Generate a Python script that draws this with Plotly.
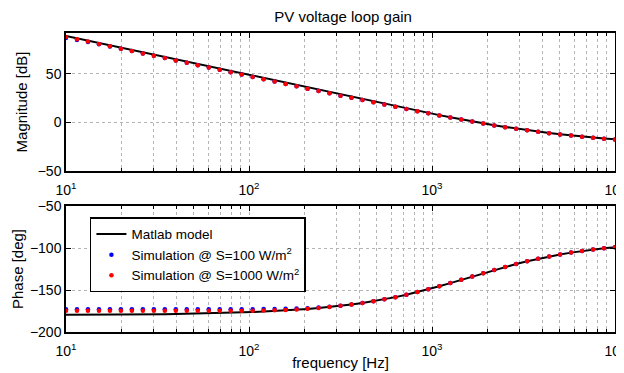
import plotly.graph_objects as go
from plotly.subplots import make_subplots

# Frequencies [Hz] (51 log-spaced points, 10 Hz .. 10 kHz)
freq = [10.0, 11.48, 13.18, 15.14, 17.38, 19.95, 22.91, 26.30, 30.20, 34.67,
        39.81, 45.71, 52.48, 60.26, 69.18, 79.43, 91.20, 104.7, 120.2, 138.0,
        158.5, 182.0, 208.9, 239.9, 275.4, 316.2, 363.1, 416.9, 478.6, 549.5,
        631.0, 724.4, 831.8, 955.0, 1096.0, 1259.0, 1445.0, 1660.0, 1905.0, 2188.0,
        2512.0, 2884.0, 3311.0, 3802.0, 4365.0, 5012.0, 5754.0, 6607.0, 7586.0, 8710.0,
        10000.0]

# Magnitude [dB]
mag_model = [89.0, 86.6, 84.2, 81.7, 79.3, 76.9, 74.5, 72.0, 69.6, 67.2,
             64.8, 62.4, 59.9, 57.5, 55.1, 52.7, 50.2, 47.8, 45.4, 43.0,
             40.5, 38.1, 35.7, 33.3, 30.9, 28.5, 26.1, 23.7, 21.3, 19.0,
             16.6, 14.3, 12.0, 9.7, 7.5, 5.3, 3.1, 1.0, -1.0, -2.9,
             -4.7, -6.4, -8.0, -9.5, -10.9, -12.2, -13.4, -14.5, -15.5, -16.5,
             -17.4]
mag_s100 = [86.8, 84.8, 82.7, 80.3, 78.1, 75.8, 73.5, 71.0, 68.6, 66.2,
            63.8, 61.4, 58.9, 56.5, 54.1, 51.7, 49.2, 46.8, 44.4, 42.0,
            39.5, 37.1, 34.7, 32.3, 29.9, 27.5, 25.3, 23.0, 20.7, 18.5,
            16.2, 13.9, 11.6, 9.4, 7.2, 5.0, 2.9, 0.8, -1.2, -3.1,
            -4.9, -6.6, -8.2, -9.7, -11.1, -12.4, -13.6, -14.7, -15.7, -16.7,
            -17.6]
mag_s1000 = [87.9, 85.5, 83.2, 80.7, 78.3, 75.9, 73.5, 71.0, 68.6, 66.2,
             63.8, 61.4, 58.9, 56.5, 54.1, 51.7, 49.2, 46.8, 44.4, 42.0,
             39.5, 37.1, 34.7, 32.3, 29.9, 27.5, 25.3, 23.0, 20.7, 18.5,
             16.2, 13.9, 11.6, 9.4, 7.2, 5.0, 2.9, 0.8, -1.2, -3.1,
             -4.9, -6.6, -8.2, -9.7, -11.1, -12.4, -13.6, -14.7, -15.7, -16.7,
             -17.6]

# Phase [deg]
ph_model = [-179.6, -179.6, -179.5, -179.5, -179.4, -179.3, -179.2, -179.1, -178.9, -178.8,
            -178.6, -178.4, -178.1, -177.8, -177.5, -177.2, -176.7, -176.3, -175.7, -175.1,
            -174.3, -173.5, -172.6, -171.5, -170.2, -168.8, -167.2, -165.4, -163.3, -161.0,
            -158.5, -155.6, -152.5, -149.2, -145.6, -141.8, -137.9, -134.0, -130.0, -126.2,
            -122.5, -119.0, -115.8, -112.8, -110.1, -107.7, -105.5, -103.6, -101.9, -100.4,
            -99.1]
ph_s100 = [-172.8, -172.8, -172.8, -172.8, -172.8, -172.8, -172.8, -172.8, -172.8, -172.8,
           -172.8, -172.8, -172.8, -172.8, -172.8, -172.8, -172.8, -172.8, -172.7, -172.6,
           -172.4, -172.1, -171.6, -170.9, -169.9, -168.7, -167.2, -165.4, -163.3, -161.0,
           -158.5, -155.6, -152.5, -149.2, -145.6, -141.8, -137.9, -134.0, -130.0, -126.2,
           -122.5, -119.0, -115.8, -112.8, -110.1, -107.7, -105.5, -103.6, -101.9, -100.4,
           -99.1]
ph_s1000 = [-174.8, -174.8, -174.8, -174.8, -174.8, -174.8, -174.8, -174.8, -174.8, -174.8,
            -174.8, -174.8, -174.8, -174.8, -174.8, -174.7, -174.7, -174.6, -174.4, -174.1,
            -173.7, -173.1, -172.3, -171.3, -170.1, -168.8, -167.2, -165.4, -163.3, -161.0,
            -158.5, -155.6, -152.5, -149.2, -145.6, -141.8, -137.9, -134.0, -130.0, -126.2,
            -122.5, -119.0, -115.8, -112.8, -110.1, -107.7, -105.5, -103.6, -101.9, -100.4,
            -99.1]

xtick_vals = [10, 100, 1000, 10000]
xtick_text = ["10<sup>1</sup>", "10<sup>2</sup>", "10<sup>3</sup>", "10<sup>4</sup>"]
xminor_vals = [20, 30, 40, 50, 60, 70, 80, 90,
               200, 300, 400, 500, 600, 700, 800, 900,
               2000, 3000, 4000, 5000, 6000, 7000, 8000, 9000]

FONT = "Liberation Sans, Arial, Helvetica, sans-serif"
TICK_FS = 14
LAB_FS = 15

fig = make_subplots(rows=2, cols=1, shared_xaxes=False, vertical_spacing=0.1)

mk = 4.5
fig.add_trace(go.Scatter(x=freq, y=mag_model, mode="lines", line=dict(color="black", width=2),
                         name="Matlab model", showlegend=True), row=1, col=1)
fig.add_trace(go.Scatter(x=freq, y=mag_s100, mode="markers", marker=dict(color="#0000ff", size=mk),
                         name="Simulation @ S=100 W/m<sup>2</sup>", showlegend=True), row=1, col=1)
fig.add_trace(go.Scatter(x=freq, y=mag_s1000, mode="markers", marker=dict(color="#ff0000", size=mk),
                         name="Simulation @ S=1000 W/m<sup>2</sup>", showlegend=True), row=1, col=1)
fig.add_trace(go.Scatter(x=freq, y=ph_model, mode="lines", line=dict(color="black", width=2),
                         showlegend=False), row=2, col=1)
fig.add_trace(go.Scatter(x=freq, y=ph_s100, mode="markers", marker=dict(color="#0000ff", size=mk),
                         showlegend=False), row=2, col=1)
fig.add_trace(go.Scatter(x=freq, y=ph_s1000, mode="markers", marker=dict(color="#ff0000", size=mk),
                         showlegend=False), row=2, col=1)

gridc = "#b4b4b4"
xcommon = dict(type="log", range=[1, 4], tickvals=xtick_vals, ticktext=xtick_text,
               showline=True, linecolor="black", linewidth=1.5, mirror="ticks",
               ticks="inside", ticklen=5, tickcolor="black", ticklabelstandoff=5,
               ticklabeloverflow="allow", automargin=False,
               showgrid=True, gridcolor=gridc, griddash="dot", gridwidth=1,
               minor=dict(tickvals=xminor_vals, ticks="inside", ticklen=3, tickcolor="black",
                          showgrid=True, gridcolor=gridc, griddash="dot", gridwidth=1),
               tickfont=dict(size=TICK_FS, color="black", family=FONT),
               zeroline=False)
fig.update_xaxes(**xcommon, row=1, col=1)
fig.update_xaxes(**xcommon, row=2, col=1)
fig.update_xaxes(title=dict(text="frequency [Hz]", font=dict(size=LAB_FS, color="black", family=FONT), standoff=0),
                 row=2, col=1)

ycommon = dict(showline=True, linecolor="black", linewidth=1.5, mirror="ticks",
               ticks="inside", ticklen=5, tickcolor="black", automargin=False,
               showgrid=True, gridcolor=gridc, griddash="dot", gridwidth=1,
               tickfont=dict(size=TICK_FS, color="black", family=FONT), zeroline=False)
fig.update_yaxes(**ycommon, range=[-50, 92], tickvals=[-50, 0, 50],
                 title=dict(text="Magnitude [dB]", font=dict(size=LAB_FS, color="black", family=FONT), standoff=6),
                 row=1, col=1)
fig.update_yaxes(**ycommon, range=[-200, -50], tickvals=[-200, -150, -100, -50],
                 title=dict(text="Phase [deg]", font=dict(size=LAB_FS, color="black", family=FONT), standoff=3),
                 row=2, col=1)

fig.update_layout(
    width=616, height=365,
    margin=dict(l=58, r=9, t=25, b=41, autoexpand=False),
    paper_bgcolor="white", plot_bgcolor="white",
    title=dict(text="PV voltage loop gain", xref="container", x=0.544, xanchor="center",
               yref="container", y=0.976, yanchor="middle",
               font=dict(size=LAB_FS, color="black", family=FONT)),
    xaxis=dict(domain=[0, 1]), yaxis=dict(domain=[0.5385, 1.0]),
    xaxis2=dict(domain=[0, 1]), yaxis2=dict(domain=[0.0, 0.4214]),
    legend=dict(x=0.0436, y=0.3836, xanchor="left", yanchor="top",
                bordercolor="black", borderwidth=1.5, bgcolor="white",
                font=dict(size=13.5, color="black", family=FONT),
                tracegroupgap=0, itemwidth=30),
    showlegend=True,
)

fig.write_html("out.html")
